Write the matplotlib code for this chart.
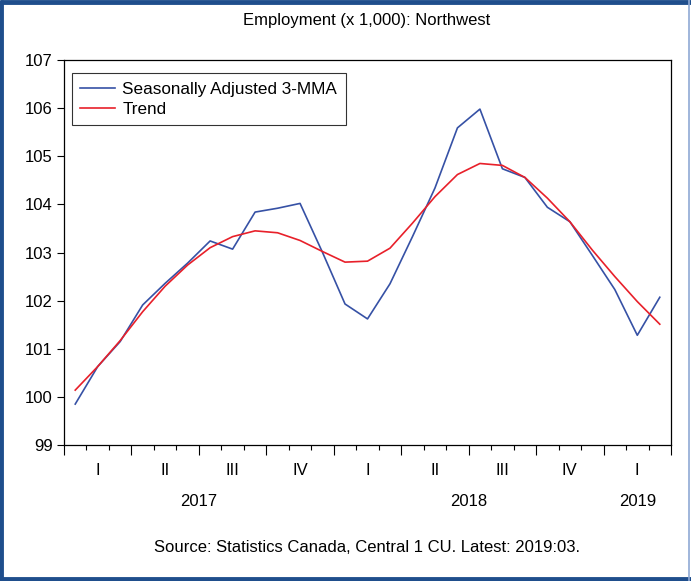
import matplotlib
matplotlib.use("Agg")
import matplotlib.pyplot as plt
import matplotlib.transforms as mtransforms
from matplotlib.lines import Line2D
import numpy as np

plt.rcParams["font.family"] = ["Liberation Sans", "DejaVu Sans"]

# Monthly values, Jan 2017 .. Mar 2019
sa_3mma = [99.85, 100.63, 101.15, 101.91, 102.36, 102.78, 103.24, 103.07, 103.84,
           103.92, 104.02, 103.00, 101.93, 101.62, 102.35, 103.33, 104.34, 105.59,
           105.98, 104.74, 104.56, 103.94, 103.64, 102.94, 102.23, 101.28, 102.07]
trend = [100.14, 100.63, 101.17, 101.77, 102.30, 102.74, 103.10, 103.33, 103.45,
         103.41, 103.25, 103.02, 102.80, 102.82, 103.09, 103.61, 104.16, 104.62,
         104.85, 104.81, 104.56, 104.13, 103.64, 103.05, 102.50, 101.98, 101.51]
quarter_labels = ["I", "II", "III", "IV", "I", "II", "III", "IV", "I"]
year_labels = ["2017", "2018", "2019"]
year_centers = [5.5, 17.5, 25.0]
y_ticks = [99, 100, 101, 102, 103, 104, 105, 106, 107]

months = np.arange(len(sa_3mma))

fig = plt.figure(figsize=(6.91, 5.81), dpi=100)
ax = fig.add_axes([0.0926, 0.2341, 0.8785, 0.6626])

ax.plot(months, sa_3mma, color="#3651a5", linewidth=1.2, label="Seasonally Adjusted 3-MMA")
ax.plot(months, trend, color="#e8202a", linewidth=1.2, label="Trend")

ax.set_xlim(-0.5, len(months) - 0.5)
ax.set_ylim(99, 107)
ax.set_yticks(y_ticks)
ax.tick_params(axis="y", direction="out", length=5, width=0.8, labelsize=12, pad=3)

# month boundaries as minor ticks, quarter boundaries as major ticks
ax.set_xticks(np.arange(-0.5, len(months), 3))
ax.set_xticks(np.arange(-0.5, len(months), 1), minor=True)
ax.tick_params(axis="x", which="major", direction="out", length=7.2, width=0.8, labelbottom=False)
ax.tick_params(axis="x", which="minor", direction="out", length=3.6, width=0.8)

for spine in ax.spines.values():
    spine.set_linewidth(0.9)
    spine.set_color("black")

trans = mtransforms.blended_transform_factory(ax.transData, ax.transAxes)
for k, q in enumerate(quarter_labels):
    ax.text(1 + 3 * k, -0.065, q, transform=trans, ha="center", va="center", fontsize=12)
for yr, xc in zip(year_labels, year_centers):
    ax.text(xc, -0.148, yr, transform=trans, ha="center", va="center", fontsize=12)

leg = ax.legend(loc="upper left", bbox_to_anchor=(0.013, 0.966), fontsize=12.3,
                frameon=True, fancybox=False, handlelength=2.05, handletextpad=0.4,
                borderpad=0.5, labelspacing=0.3, borderaxespad=0)
leg.get_frame().set_edgecolor("black")
leg.get_frame().set_linewidth(0.8)

fig.text(0.53, 0.965, "Employment (x 1,000): Northwest", ha="center", va="center", fontsize=12)
fig.text(0.531, 0.058, "Source: Statistics Canada, Central 1 CU. Latest: 2019:03.",
         ha="center", va="center", fontsize=12)

# outer frame: heavy on left, top and bottom, light on the right
frame = dict(transform=fig.transFigure, color="#1f4e8c", linewidth=3.5, solid_capstyle="butt")
fig.add_artist(Line2D([0.002, 0.002], [0, 1], **frame))
fig.add_artist(Line2D([0, 1], [0.996, 0.996], **frame))
fig.add_artist(Line2D([0, 1], [0.004, 0.004], **frame))
fig.add_artist(Line2D([0.9975, 0.9975], [0, 1], transform=fig.transFigure,
                      color="#8fa9d4", linewidth=1.2))

fig.savefig("out.png", dpi=100)
plt.close(fig)
